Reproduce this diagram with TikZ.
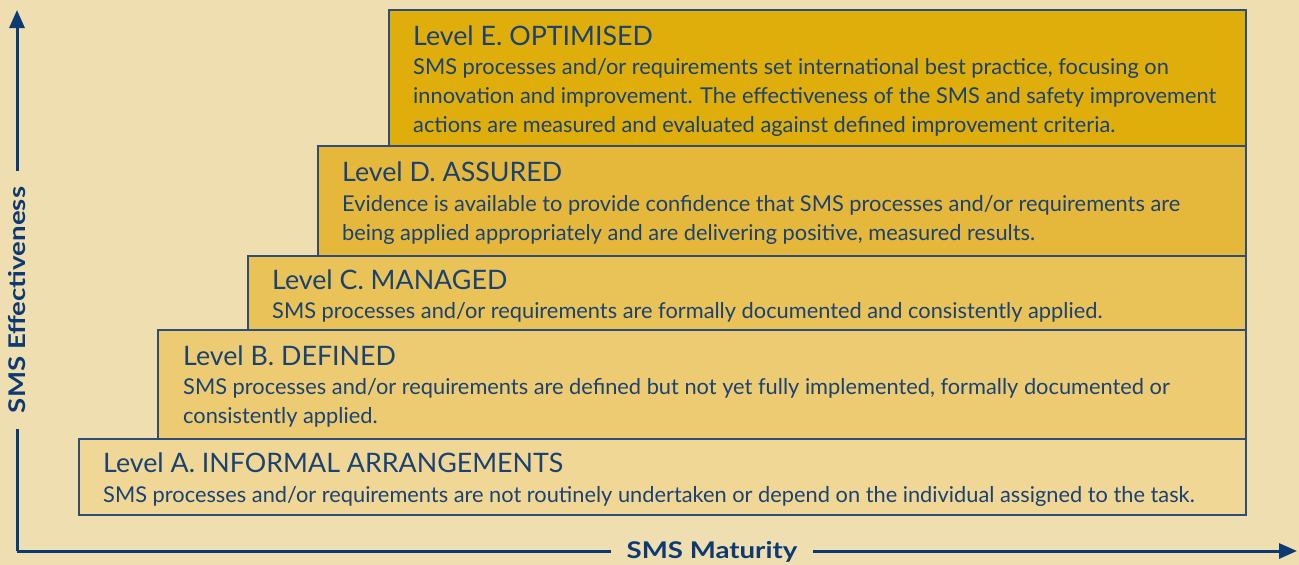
\documentclass[tikz,border=0pt]{standalone}
\usepackage{fontspec}
\setmainfont{Lato}
\newfontfamily\axfont[FakeStretch=1.2]{Lato}
\usetikzlibrary{arrows.meta}
\definecolor{bg}{HTML}{EEDEB0}
\definecolor{cE}{HTML}{E0AE0A}
\definecolor{cD}{HTML}{E5B83C}
\definecolor{cC}{HTML}{E9C357}
\definecolor{cB}{HTML}{EDCB72}
\definecolor{cA}{HTML}{F1D795}
\definecolor{edge}{HTML}{2B4F7A}
\definecolor{txt}{HTML}{1A4272}
\definecolor{axis}{HTML}{0D3A72}
\tikzset{
  lvlbox/.style={draw=edge, line width=1.6pt},
  ttl/.style={anchor=base west, inner sep=0pt, text=txt, font=\fontsize{26.8}{30}\selectfont},
  bdy/.style={anchor=base west, inner sep=0pt, text=txt, font=\fontsize{21.8}{29}\selectfont, align=left},
  axlbl/.style={text=axis, font=\axfont\bfseries\fontsize{23}{26}\selectfont, fill=bg, inner xsep=16pt, inner ysep=2pt},
  axline/.style={draw=axis, line width=3pt, -{Triangle[length=18pt,width=15pt]}}
}
\begin{document}
\begin{tikzpicture}[x=1pt,y=-1pt]
\fill[bg] (0,0) rectangle (1299,565);
\useasboundingbox (0,0) rectangle (1299,565);
% boxes
\path[lvlbox, fill=cA] (79,439) rectangle (1246,515);
\path[lvlbox, fill=cB] (158,330) rectangle (1246,439);
\path[lvlbox, fill=cC] (248,256) rectangle (1246,330);
\path[lvlbox, fill=cD] (318,146) rectangle (1246,256);
\path[lvlbox, fill=cE] (389,10) rectangle (1246,146);
% texts
\node[ttl] (tE) at (413,45) {Level E. OPTIMISED};
\node[bdy] (bE1) at (413,74) {SMS processes and/or requirements set international best practice, focusing on};
\node[bdy] (bE2) at (413,103) {innovation and improvement. The effectiveness of the SMS and safety improvement};
\node[bdy] (bE3) at (413,132) {actions are measured and evaluated against defined improvement criteria.};
\node[ttl] (tD) at (342,181) {Level D. ASSURED};
\node[bdy] (bD1) at (342,211) {Evidence is available to provide confidence that SMS processes and/or requirements are};
\node[bdy] (bD2) at (342,240) {being applied appropriately and are delivering positive, measured results.};
\node[ttl] (tC) at (272,289) {Level C. MANAGED};
\node[bdy] (bC1) at (272,318) {SMS processes and/or requirements are formally documented and consistently applied.};
\node[ttl] (tB) at (183,365) {Level B. DEFINED};
\node[bdy] (bB1) at (183,394) {SMS processes and/or requirements are defined but not yet fully implemented, formally documented or};
\node[bdy] (bB2) at (183,423) {consistently applied.};
\node[ttl] (tA) at (103,472) {Level A. INFORMAL ARRANGEMENTS};
\node[bdy] (bA1) at (103,502) {SMS processes and/or requirements are not routinely undertaken or depend on the individual assigned to the task.};
% axes
\coordinate (o) at (17,551);
\coordinate (ytop) at (17,10);
\coordinate (xend) at (1297,551);
\draw[axline] (o) -- (ytop);
\draw[axline] (o) -- (xend);
\node[axlbl, rotate=90] (ylab) at (17,300) {SMS Effectiveness};
\node[axlbl, inner ysep=4pt] (xlab) at (712,552) {SMS Maturity};
\end{tikzpicture}
\end{document}
